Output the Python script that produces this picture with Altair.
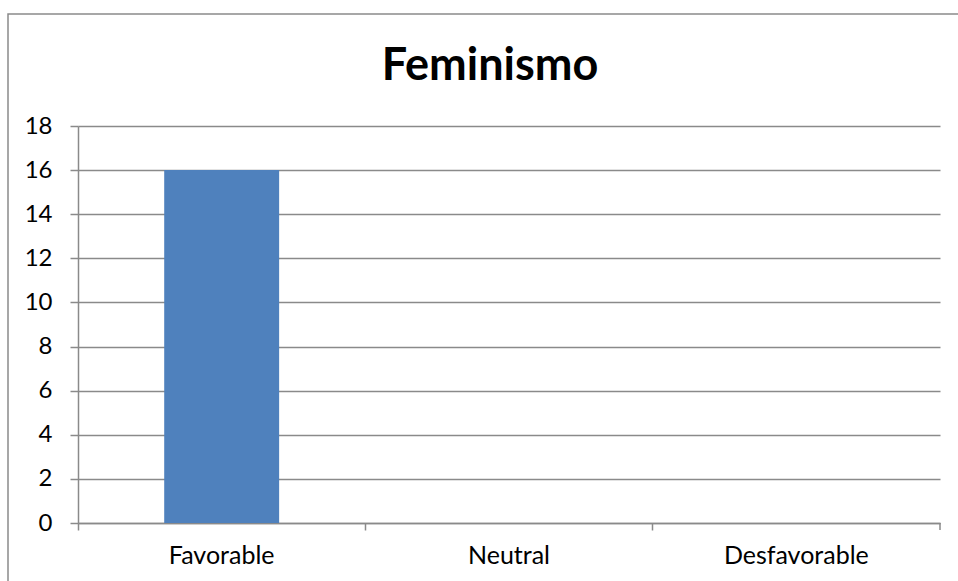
import altair as alt
import pandas as pd

categories = ["Favorable", "Neutral", "Desfavorable"]
values = [16, 0, 0]
y_ticks = [0, 2, 4, 6, 8, 10, 12, 14, 16, 18]
title_text = "Feminismo"

df = pd.DataFrame({"cat": categories, "val": values})

W, H = 862, 397
GRAY = "#8a8a8a"
FONT = "Lato"

bars = alt.Chart(df).mark_bar(width=alt.RelativeBandSize(0.4), color="#4f81bd").encode(
    x=alt.X("cat:N", sort=categories,
            scale=alt.Scale(paddingInner=0, paddingOuter=0),
            axis=alt.Axis(title=None, labelAngle=0, bandPosition=0, tickSize=7,
                          tickColor=GRAY, domainColor=GRAY, tickWidth=1.5, domainWidth=1.5,
                          labelFont=FONT, labelFontSize=25, labelColor="#000000",
                          labelPadding=13, grid=False)),
    y=alt.Y("val:Q", scale=alt.Scale(domain=[0, 18], nice=False),
            axis=alt.Axis(title=None, values=y_ticks, tickSize=8, tickColor=GRAY,
                          domainColor=GRAY, gridColor=GRAY, tickWidth=1.5, domainWidth=1.5,
                          gridWidth=1.5, labelFont=FONT, labelFontSize=24,
                          labelColor="#000000", labelPadding=18)),
)

one = pd.DataFrame({"a": [0]})
end_tick = alt.Chart(one).mark_rule(color=GRAY, strokeWidth=1.5).encode(
    x=alt.value(W), y=alt.value(H), y2=alt.value(H + 7)
)
border = alt.Chart(one).mark_rect(filled=False, stroke=GRAY, strokeWidth=1.5).encode(
    x=alt.value(-70), y=alt.value(-112), x2=alt.value(1000), y2=alt.value(600)
)
title = alt.Chart(pd.DataFrame({"t": [title_text]})).mark_text(
    font=FONT, fontSize=45, fontWeight="bold", color="#000000",
    align="center", baseline="alphabetic"
).encode(x=alt.value(W / 2 - 19), y=alt.value(-46), text="t:N")

chart = alt.layer(border, bars, end_tick, title).properties(
    width=W, height=H,
    autosize=alt.AutoSizeParams(type="none"),
    padding={"left": 78, "top": 126, "right": 18, "bottom": 58},
    background="white",
).configure_view(stroke=None)

chart.save("out.html", embed_options={"renderer": "svg", "actions": False})
